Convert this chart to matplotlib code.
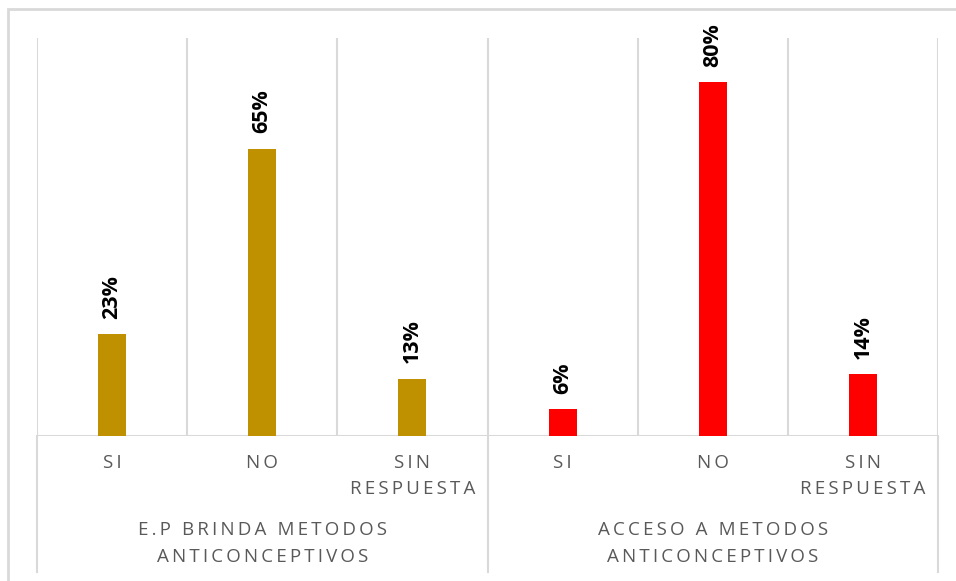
import matplotlib
matplotlib.use("Agg")
import matplotlib.pyplot as plt
from matplotlib.patches import Rectangle
from matplotlib.lines import Line2D

groups = ["E.P BRINDA METODOS\nANTICONCEPTIVOS", "ACCESO A METODOS\nANTICONCEPTIVOS"]
answers = ["SI", "NO", "SIN\nRESPUESTA"]
brinda_values = [23, 65, 13]
acceso_values = [6, 80, 14]
group_colors = ["#BF9000", "#FF0000"]

GRID = "#D9D9D9"
TEXT = "#595959"
W, H = 956, 581

fig = plt.figure(figsize=(W / 100, H / 100), dpi=100)
fig.patch.set_facecolor("white")

# outer chart frame (left and top edges visible)
fig.add_artist(Rectangle((8 / W, -0.1), 1.2, 1.1 - 9 / H, transform=fig.transFigure,
                         fill=False, edgecolor=GRID, linewidth=2))

x0, x1 = 37 / W, 938 / W
y0, y1 = 1 - 436 / H, 1 - 38 / H
ax = fig.add_axes([x0, y0, x1 - x0, y1 - y0])
ax.set_xlim(0, 6)
ax.set_ylim(0, 90)
ax.axis("off")

GAP = "\u2009"


def put_lines(xc, y_first, label, step=26.5):
    for k, line in enumerate(label.split("\n")):
        fig.text(xc / W, 1 - (y_first + k * step) / H, GAP.join(line),
                 ha="center", va="center", fontsize=13.5, color=TEXT,
                 family="Open Sans")


# vertical grid lines at category boundaries
for b in range(7):
    ax.axvline(b, color=GRID, linewidth=1.5, zorder=0)
ax.axhline(0, color=GRID, linewidth=1.5, zorder=0)
# group dividers extend through the label rows
bottom_ax = -(572 - 436) / (436 - 38)
for b in (0, 3, 6):
    ax.add_line(Line2D([b, b], [bottom_ax, 0], transform=ax.get_xaxis_transform(),
                       color=GRID, linewidth=1.5, clip_on=False))

cat_w = (938 - 37) / 6
series = [brinda_values, acceso_values]
for g, (vals, col) in enumerate(zip(series, group_colors)):
    xs = [g * 3 + i + 0.5 for i in range(len(vals))]
    ax.bar(xs, vals, width=0.187, color=col, zorder=2)
    for x, v in zip(xs, vals):
        ax.annotate(f"{v}%", (x, v), xytext=(0, 11), textcoords="offset points",
                    rotation=90, ha="center", va="bottom", fontsize=15.5,
                    fontweight="bold", color="black", family="Open Sans")
    for i, lab in enumerate(answers):
        put_lines(37 + (g * 3 + i + 0.5) * cat_w, 463, lab)
    put_lines(37 + (g * 3 + 1.5) * cat_w, 530, groups[g])

fig.savefig("out.png", dpi=100, facecolor="white")
